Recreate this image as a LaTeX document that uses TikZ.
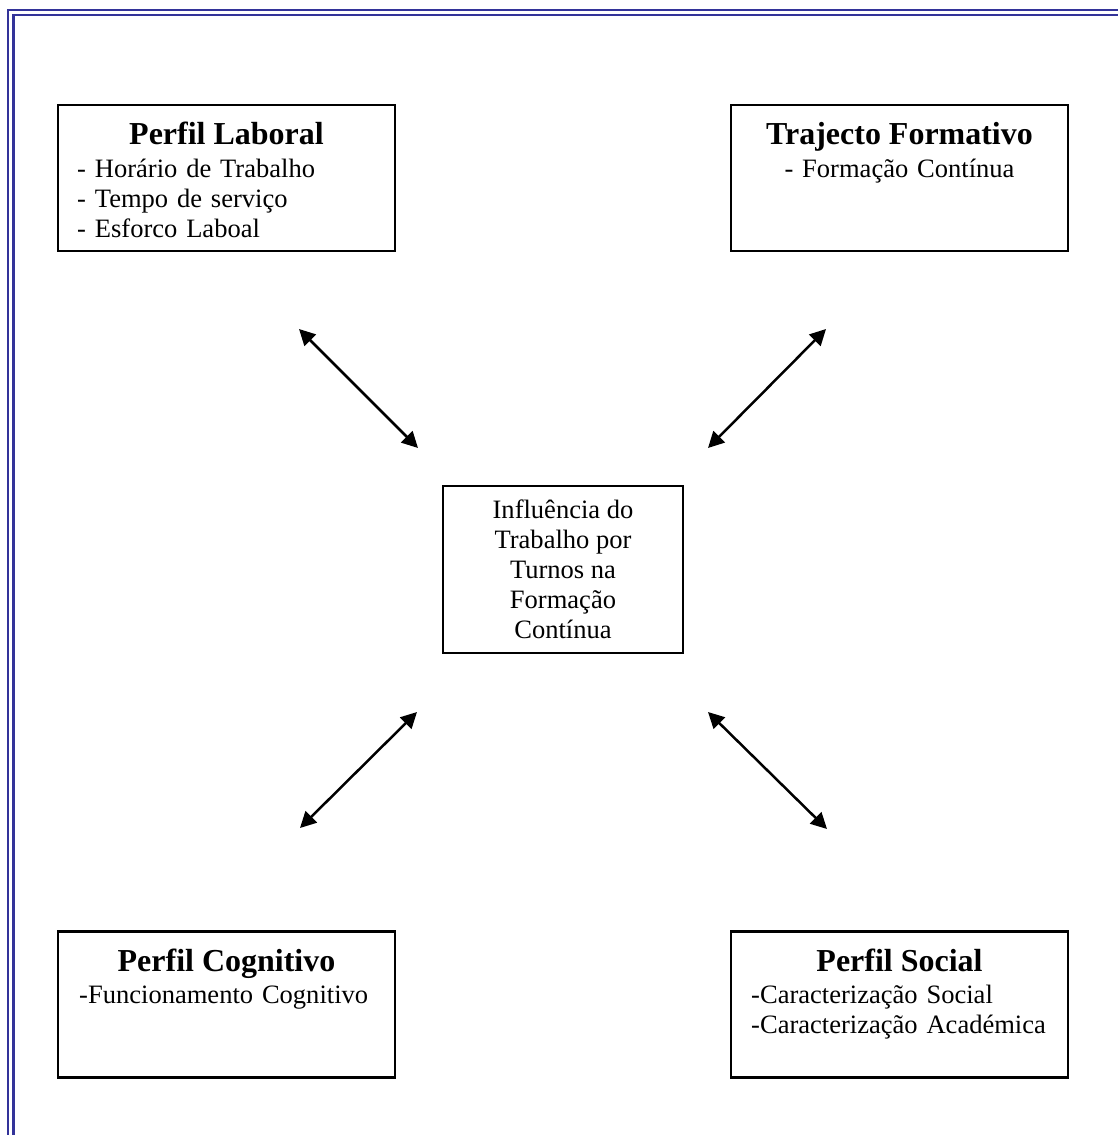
\documentclass[tikz,border=0pt]{standalone}
\usepackage{fontspec}
\setmainfont{Liberation Serif}
\usetikzlibrary{positioning, arrows.meta}
\definecolor{moldura}{RGB}{51,51,153}

\begin{document}
\begin{tikzpicture}[
    >={Triangle[length=0.32cm, width=0.32cm]},
    caixa/.style={rectangle, draw, line width=0.045cm, minimum width=6.74cm, minimum height=2.92cm, inner sep=0pt},
    titulo/.style={anchor=base, inner sep=0pt, font=\fontsize{18.2}{21}\selectfont\bfseries},
    item/.style={anchor=base west, inner sep=0pt, text width=6.2cm, align=left, font=\fontsize{15.1}{17.07}\selectfont},
    seta/.style={<->, line width=0.05cm},
    borda/.style={draw=moldura, line width=0.05cm}
]
    \useasboundingbox (0,0) rectangle (22.36,-22.70);

    % --- Moldura da página ---
    \draw[borda] (0.16,-22.70) |- (22.36,-0.20);
    \draw[borda] (0.27,-22.70) |- (22.36,-0.30);

    % --- Caixas exteriores ---
    \node[caixa] (laboral) at (4.53,-3.56) {};
    \node[caixa] (trajecto) at (17.99,-3.56) {};
    \node[caixa] (cognitivo) at (4.53,-20.09) {};
    \node[caixa] (social) at (17.99,-20.09) {};

    % --- Títulos ---
    \node[titulo] (laboral_t) at ([yshift=-0.82cm]laboral.north) {Perfil Laboral};
    \node[titulo] (trajecto_t) at ([yshift=-0.82cm]trajecto.north) {Trajecto Formativo};
    \node[titulo] (cognitivo_t) at ([yshift=-0.82cm]cognitivo.north) {Perfil Cognitivo};
    \node[titulo] (social_t) at ([yshift=-0.82cm]social.north) {Perfil Social};

    % --- Itens de cada perfil ---
    \node[item] (laboral_i) at ([xshift=0.40cm, yshift=-1.47cm]laboral.north west)
        {- Horário de Trabalho\\- Tempo de serviço\\- Esforco Laboal};
    \node[item, anchor=base, align=center] (trajecto_i) at ([yshift=-1.47cm]trajecto.north)
        {- Formação Contínua};
    \node[item] (cognitivo_i) at ([xshift=0.44cm, yshift=-1.47cm]cognitivo.north west)
        {-Funcionamento Cognitivo};
    \node[item] (social_i) at ([xshift=0.42cm, yshift=-1.47cm]social.north west)
        {-Caracterização Social\\-Caracterização Académica};

    % --- Caixa central ---
    \node[rectangle, draw, line width=0.045cm, minimum width=4.80cm, minimum height=3.34cm,
          align=center, font=\fontsize{15.1}{17.07}\selectfont] (influencia) at (11.26,-11.39)
        {Influência do\\Trabalho por\\Turnos na\\Formação\\Contínua};

    % --- Pontas das setas ---
    \coordinate (tl_a) at (5.98,-6.58);
    \coordinate (tl_b) at (8.36,-8.96);
    \coordinate (tr_a) at (16.52,-6.58);
    \coordinate (tr_b) at (14.16,-8.96);
    \coordinate (bl_a) at (6.00,-16.56);
    \coordinate (bl_b) at (8.34,-14.24);
    \coordinate (br_a) at (16.54,-16.58);
    \coordinate (br_b) at (14.16,-14.24);

    % --- Setas ---
    \draw[seta] (tl_a) -- (tl_b);
    \draw[seta] (tr_a) -- (tr_b);
    \draw[seta] (bl_a) -- (bl_b);
    \draw[seta] (br_a) -- (br_b);

\end{tikzpicture}
\end{document}
